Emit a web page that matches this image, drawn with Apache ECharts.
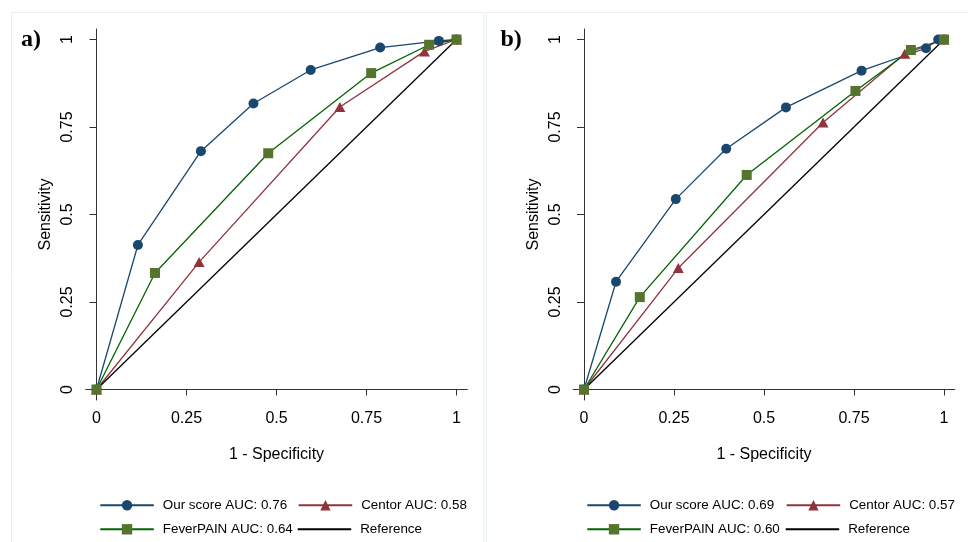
<!DOCTYPE html>
<html>
<head>
<meta charset="utf-8">
<script src="https://cdn.jsdelivr.net/npm/echarts@6/dist/echarts.min.js"></script>
<style>
html,body{margin:0;padding:0;background:#fff;}
#chart{width:968px;height:542px;}
</style>
</head>
<body>
<div id="chart"></div>
<script>
// ---- Data ----
const tickValues = [0, 0.25, 0.5, 0.75, 1];
const panelLabels = ['a)', 'b)'];

// Panel a
const ourA_x    = [0, 0.115, 0.290, 0.436, 0.595, 0.788, 0.951, 1];
const ourA_y    = [0, 0.413, 0.681, 0.817, 0.913, 0.977, 0.996, 1];
const centorA_x = [0, 0.285, 0.676, 0.911, 1];
const centorA_y = [0, 0.364, 0.807, 0.966, 1];
const feverA_x  = [0, 0.1625, 0.477, 0.763, 0.924, 1];
const feverA_y  = [0, 0.333, 0.675, 0.904, 0.985, 1];
const namesA = ['Our score AUC: 0.76', 'Centor AUC: 0.58', 'FeverPAIN AUC: 0.64', 'Reference'];

// Panel b
const ourB_x    = [0, 0.089, 0.255, 0.395, 0.561, 0.771, 0.950, 0.984, 1];
const ourB_y    = [0, 0.308, 0.544, 0.688, 0.806, 0.911, 0.975, 1, 1];
const centorB_x = [0, 0.262, 0.664, 0.891, 1];
const centorB_y = [0, 0.347, 0.763, 0.959, 1];
const feverB_x  = [0, 0.155, 0.452, 0.754, 0.908, 1];
const feverB_y  = [0, 0.264, 0.613, 0.853, 0.970, 1];
const namesB = ['Our score AUC: 0.69', 'Centor AUC: 0.57', 'FeverPAIN AUC: 0.60', 'Reference'];

const ref_x = [0, 1];
const ref_y = [0, 1];

// ---- Styles ----
const NAVY = '#1a476f', MAROON = '#90353b', GREEN_M = '#55752f', GREEN_L = '#006400';
const FONT = 'Liberation Sans, Arial, Helvetica, sans-serif';
const SERIF = 'Liberation Serif, Times New Roman, serif';
const zip = (xs, ys) => xs.map((x, i) => [x, ys[i]]);

const gridLefts = [85.7, 573.2];
const grids = gridLefts.map(l => ({left: l, top: 29, width: 381.6, height: 371}));

function xAxis(i) {
  return {
    gridIndex: i, type: 'value', min: -0.03, max: 1.03,
    name: '1 - Specificity', nameLocation: 'middle', nameGap: 47,
    nameTextStyle: {fontFamily: FONT, fontSize: 16, color: '#000'},
    axisLine: {show: true, lineStyle: {color: '#333', width: 1}},
    axisTick: {show: true, length: 6, customValues: tickValues, lineStyle: {color: '#333'}},
    axisLabel: {customValues: tickValues, margin: 11, fontFamily: FONT, fontSize: 16, color: '#000',
      formatter: v => String(v)},
    splitLine: {show: false}
  };
}
function yAxis(i) {
  return {
    gridIndex: i, type: 'value', min: -0.03, max: 1.03,
    name: 'Sensitivity', nameLocation: 'middle', nameGap: 32, nameRotate: 90,
    nameTextStyle: {fontFamily: FONT, fontSize: 16, color: '#000'},
    axisLine: {show: true, lineStyle: {color: '#333', width: 1}},
    axisTick: {show: true, length: 7, customValues: tickValues, lineStyle: {color: '#333'}},
    axisLabel: {customValues: tickValues, rotate: 90, margin: 10, fontFamily: FONT, fontSize: 16, color: '#000',
      formatter: v => String(v)},
    splitLine: {show: false}
  };
}

function panelSeries(i, names, our, cen, fev) {
  const base = {type: 'line', xAxisIndex: i, yAxisIndex: i, silent: true, animation: false};
  return [
    Object.assign({}, base, {name: names[0], data: our, symbol: 'circle', symbolSize: 10,
      lineStyle: {color: NAVY, width: 1.3}, itemStyle: {color: NAVY}}),
    Object.assign({}, base, {name: names[1], data: cen, symbol: 'triangle', symbolSize: [11, 10],
      lineStyle: {color: MAROON, width: 1.3}, itemStyle: {color: MAROON}}),
    Object.assign({}, base, {name: names[2], data: fev, symbol: 'rect', symbolSize: 10,
      lineStyle: {color: GREEN_L, width: 1.3}, itemStyle: {color: GREEN_M}}),
    Object.assign({}, base, {name: names[3], data: zip(ref_x, ref_y), symbol: 'none',
      lineStyle: {color: '#000', width: 1.3}, itemStyle: {color: '#000'}})
  ];
}

const textStyle = {fontFamily: FONT, fontSize: 13.4, color: '#000', lineHeight: 14, padding: [0, 0, 0, 4]};
function legendItem(left, top, name) {
  return {
    orient: 'horizontal', left: left, top: top, padding: 0, itemWidth: 53.5, itemHeight: 13,
    data: [name], selectedMode: false, lineStyle: {width: 2}, textStyle: textStyle
  };
}
function legendRef(left, top, name) {
  return {
    orient: 'horizontal', left: left, top: top, padding: 0, itemWidth: 53.5, itemHeight: 2,
    data: [{name: name, icon: 'rect', itemStyle: {color: '#000'}}], selectedMode: false, textStyle: textStyle
  };
}
const row1 = 498.3, row2 = 522.3;

const chart = echarts.init(document.getElementById('chart'), null, {renderer: 'canvas'});
chart.setOption({
  backgroundColor: '#fff',
  animation: false,
  title: [
    {text: panelLabels[0], left: 21, top: 28, padding: 0, textStyle: {fontFamily: SERIF, fontWeight: 'bold', fontSize: 24, color: '#000'}},
    {text: panelLabels[1], left: 500.5, top: 28, padding: 0, textStyle: {fontFamily: SERIF, fontWeight: 'bold', fontSize: 24, color: '#000'}}
  ],
  graphic: [
    {type: 'rect', shape: {x: 11.5, y: 12.5, width: 472.5, height: 540}, style: {fill: 'none', stroke: '#e6eef2', lineWidth: 1}, silent: true, z: -1},
    {type: 'rect', shape: {x: 486.5, y: 12.5, width: 490, height: 540}, style: {fill: 'none', stroke: '#e6eef2', lineWidth: 1}, silent: true, z: -1}
  ],
  grid: grids,
  xAxis: [xAxis(0), xAxis(1)],
  yAxis: [yAxis(0), yAxis(1)],
  legend: [
    legendItem(99.3, row1, namesA[0]),
    legendItem(99.3, row2, namesA[2]),
    legendItem(297.7, row1, namesA[1]),
    legendRef(297.7, row2, namesA[3]),
    legendItem(586.3, row1, namesB[0]),
    legendItem(586.3, row2, namesB[2]),
    legendItem(785.7, row1, namesB[1]),
    legendRef(785.7, row2, namesB[3])
  ],
  series: [].concat(
    panelSeries(0, namesA, zip(ourA_x, ourA_y), zip(centorA_x, centorA_y), zip(feverA_x, feverA_y)),
    panelSeries(1, namesB, zip(ourB_x, ourB_y), zip(centorB_x, centorB_y), zip(feverB_x, feverB_y))
  )
});
</script>
</body>
</html>
